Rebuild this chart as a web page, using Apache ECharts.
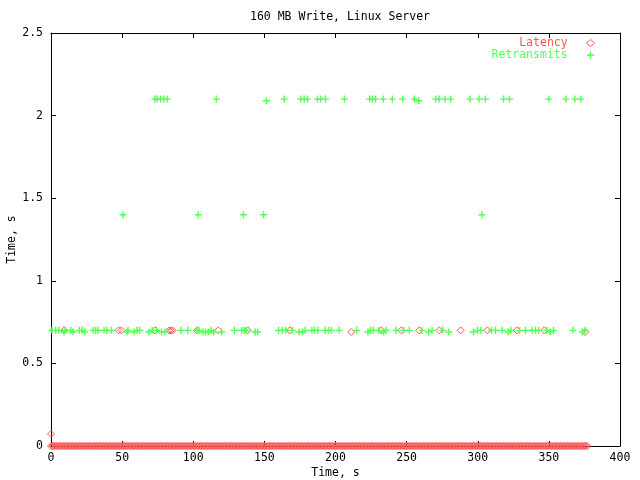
<!DOCTYPE html>
<html>
<head>
<meta charset="utf-8">
<script src="https://cdn.jsdelivr.net/npm/echarts@6/dist/echarts.min.js"></script>
<style>html,body{margin:0;padding:0;background:#fff}#c{width:640px;height:480px}</style>
</head>
<body>
<div id="c"></div>
<script>
// ---- data ----
var chartTitle = '160 MB Write, Linux Server';
var xName = 'Time, s';
var yName = 'Time, s';
var seriesNames = ['Latency', 'Retransmits'];

// Latency points [time, value] — the dense run of near-zero samples (even seconds)
var latencyBaseEven = [
[0,0],[2,0],[4,0],[6,0],[8,0],[10,0],[12,0],[14,0],[16,0],[18,0],[20,0],[22,0],[24,0],[26,0],[28,0],[30,0],[32,0],[34,0],[36,0],[38,0],
[40,0],[42,0],[44,0],[46,0],[48,0],[50,0],[52,0],[54,0],[56,0],[58,0],[60,0],[62,0],[64,0],[66,0],[68,0],[70,0],[72,0],[74,0],[76,0],[78,0],
[80,0],[82,0],[84,0],[86,0],[88,0],[90,0],[92,0],[94,0],[96,0],[98,0],[100,0],[102,0],[104,0],[106,0],[108,0],[110,0],[112,0],[114,0],[116,0],[118,0],
[120,0],[122,0],[124,0],[126,0],[128,0],[130,0],[132,0],[134,0],[136,0],[138,0],[140,0],[142,0],[144,0],[146,0],[148,0],[150,0],[152,0],[154,0],[156,0],[158,0],
[160,0],[162,0],[164,0],[166,0],[168,0],[170,0],[172,0],[174,0],[176,0],[178,0],[180,0],[182,0],[184,0],[186,0],[188,0],[190,0],[192,0],[194,0],[196,0],[198,0],
[200,0],[202,0],[204,0],[206,0],[208,0],[210,0],[212,0],[214,0],[216,0],[218,0],[220,0],[222,0],[224,0],[226,0],[228,0],[230,0],[232,0],[234,0],[236,0],[238,0],
[240,0],[242,0],[244,0],[246,0],[248,0],[250,0],[252,0],[254,0],[256,0],[258,0],[260,0],[262,0],[264,0],[266,0],[268,0],[270,0],[272,0],[274,0],[276,0],[278,0],
[280,0],[282,0],[284,0],[286,0],[288,0],[290,0],[292,0],[294,0],[296,0],[298,0],[300,0],[302,0],[304,0],[306,0],[308,0],[310,0],[312,0],[314,0],[316,0],[318,0],
[320,0],[322,0],[324,0],[326,0],[328,0],[330,0],[332,0],[334,0],[336,0],[338,0],[340,0],[342,0],[344,0],[346,0],[348,0],[350,0],[352,0],[354,0],[356,0],[358,0],
[360,0],[362,0],[364,0],[366,0],[368,0],[370,0],[372,0],[374,0],[376,0]
];
// (odd seconds)
var latencyBaseOdd = [
[1,0],[3,0],[5,0],[7,0],[9,0],[11,0],[13,0],[15,0],[17,0],[19,0],[21,0],[23,0],[25,0],[27,0],[29,0],[31,0],[33,0],[35,0],[37,0],[39,0],
[41,0],[43,0],[45,0],[47,0],[49,0],[51,0],[53,0],[55,0],[57,0],[59,0],[61,0],[63,0],[65,0],[67,0],[69,0],[71,0],[73,0],[75,0],[77,0],[79,0],
[81,0],[83,0],[85,0],[87,0],[89,0],[91,0],[93,0],[95,0],[97,0],[99,0],[101,0],[103,0],[105,0],[107,0],[109,0],[111,0],[113,0],[115,0],[117,0],[119,0],
[121,0],[123,0],[125,0],[127,0],[129,0],[131,0],[133,0],[135,0],[137,0],[139,0],[141,0],[143,0],[145,0],[147,0],[149,0],[151,0],[153,0],[155,0],[157,0],[159,0],
[161,0],[163,0],[165,0],[167,0],[169,0],[171,0],[173,0],[175,0],[177,0],[179,0],[181,0],[183,0],[185,0],[187,0],[189,0],[191,0],[193,0],[195,0],[197,0],[199,0],
[201,0],[203,0],[205,0],[207,0],[209,0],[211,0],[213,0],[215,0],[217,0],[219,0],[221,0],[223,0],[225,0],[227,0],[229,0],[231,0],[233,0],[235,0],[237,0],[239,0],
[241,0],[243,0],[245,0],[247,0],[249,0],[251,0],[253,0],[255,0],[257,0],[259,0],[261,0],[263,0],[265,0],[267,0],[269,0],[271,0],[273,0],[275,0],[277,0],[279,0],
[281,0],[283,0],[285,0],[287,0],[289,0],[291,0],[293,0],[295,0],[297,0],[299,0],[301,0],[303,0],[305,0],[307,0],[309,0],[311,0],[313,0],[315,0],[317,0],[319,0],
[321,0],[323,0],[325,0],[327,0],[329,0],[331,0],[333,0],[335,0],[337,0],[339,0],[341,0],[343,0],[345,0],[347,0],[349,0],[351,0],[353,0],[355,0],[357,0],[359,0],
[361,0],[363,0],[365,0],[367,0],[369,0],[371,0],[373,0],[375,0],[377,0]
];
var latencyHigh = [
[0,0.073],[9.2,0.7],[47.5,0.7],[49.5,0.7],[73,0.7],[83,0.7],[84.3,0.7],[85.5,0.7],[102.6,0.7],[117.6,0.7],
[138.3,0.7],[167.9,0.7],[211,0.69],[232.2,0.7],[246.3,0.7],[258.9,0.7],[273,0.7],[288,0.7],[306.8,0.7],
[327.5,0.7],[346.8,0.7],[375.5,0.69]
];

// Retransmit points [time, value]
var retransLow = [
[0.7,0.7],[3.3,0.7],[5.4,0.7],[9.2,0.69],[10.1,0.7],[13.9,0.7],[15.5,0.69],[20,0.7],[21.8,0.7],[23.7,0.69],
[29.6,0.7],[31.3,0.7],[33.1,0.7],[37.3,0.7],[39.2,0.7],[42.5,0.7],[53.5,0.69],[54.2,0.7],[58.5,0.69],[60.4,0.7],
[62.3,0.7],[68.8,0.69],[71.1,0.7],[74.2,0.7],[77.7,0.69],[80.1,0.69],[91.3,0.7],[96.1,0.7],[102.6,0.7],[104,0.7],
[106.8,0.69],[108.7,0.69],[110.6,0.69],[112.5,0.7],[114.4,0.69],[120,0.69],[128.9,0.7],[134.1,0.7],[135.9,0.7],[137.3,0.7],
[143.5,0.69],[145.3,0.69],[159.9,0.7],[162.7,0.7],[165.1,0.7],[169.7,0.7],[174.4,0.69],[176.8,0.69],[178.7,0.7],[183.4,0.7],
[185.2,0.7],[187.6,0.7],[192.7,0.7],[195.1,0.7],[197,0.7],[202.6,0.7],[214.8,0.7],[222.8,0.69],[224.6,0.7],[226.5,0.7],
[230.3,0.7],[233.8,0.69],[235.5,0.7],[242.5,0.7],[247.9,0.7],[251.9,0.7],[260.8,0.7],[265.5,0.69],[267.9,0.7],[275.4,0.7],
[279.6,0.69],[297,0.69],[299.8,0.7],[302.1,0.7],[309.6,0.7],[312.5,0.7],[317.2,0.7],[321.4,0.69],[323.2,0.7],[329.4,0.7],
[333.6,0.7],[338.3,0.7],[340.6,0.7],[342.9,0.7],[348.6,0.7],[351,0.69],[353.3,0.7],[366.9,0.7],[373.5,0.69],[375.4,0.7]
];
var retransMid = [[50.6,1.4],[103.5,1.4],[135.3,1.4],[149.4,1.4],[302.9,1.4]];
var retransHigh = [
[73,2.1],[74.6,2.1],[77,2.1],[79.3,2.1],[81.7,2.1],[116.2,2.1],[151.4,2.09],[164,2.1],[175.6,2.1],[178,2.1],
[180.3,2.1],[187.3,2.1],[189.7,2.1],[193,2.1],[206.3,2.1],[224,2.1],[225.9,2.1],[228.2,2.1],[233.6,2.1],[239.9,2.1],
[247.2,2.1],[255.4,2.1],[258.5,2.09],[270.4,2.1],[272.8,2.1],[277,2.1],[281,2.1],[294.6,2.1],[300.9,2.1],[305.4,2.1],
[318.1,2.1],[322.3,2.1],[350,2.1],[362,2.1],[368.3,2.1],[372.5,2.1]
];

// ---- chart ----
var RED = '#ff5555', GREEN = '#55ff55';
var FONT = 'DejaVu Sans Mono';
var FS = 11.5;
var PLUS = 'path://M4,0H6V4H10V6H6V10H4V6H0V4H4Z';

var latencyAll = latencyBaseEven.concat(latencyBaseOdd, latencyHigh);
var retransAll = retransLow.concat(retransMid, retransHigh);

var axisLine = {show: true, onZero: false, lineStyle: {color: '#000', width: 1}};
var tick = {show: true, inside: true, length: 5, lineStyle: {color: '#000'}};

var chart = echarts.init(document.getElementById('c'), null, {renderer: 'canvas'});
chart.setOption({
  animation: false,
  backgroundColor: '#fff',
  textStyle: {fontFamily: FONT, fontSize: FS, color: '#000'},
  title: {
    text: chartTitle, left: 335, textAlign: 'center', top: 6,
    textStyle: {fontFamily: FONT, fontSize: FS, fontWeight: 'normal', color: '#000'}
  },
  grid: {left: 51, right: 20, top: 33, bottom: 34, containLabel: false, outerBoundsMode: 'none'},
  legend: {
    orient: 'vertical', right: 40, top: 34, align: 'right',
    itemWidth: 8, itemHeight: 7, itemGap: 0, padding: [3, 5, 3, 5],
    formatter: function (n) { return n + '  '; },
    textStyle: {fontFamily: FONT, fontSize: FS, padding: 0, lineHeight: 11},
    data: [
      {name: seriesNames[0], icon: 'diamond', textStyle: {color: RED},
       itemStyle: {color: 'transparent', borderColor: RED, borderWidth: 1}},
      {name: seriesNames[1], icon: PLUS, textStyle: {color: GREEN},
       itemStyle: {color: GREEN}}
    ]
  },
  xAxis: [
    {type: 'value', position: 'bottom', min: 0, max: 400, interval: 50,
     axisLine: axisLine, axisTick: tick, splitLine: {show: false},
     axisLabel: {margin: 6, color: '#000', fontFamily: FONT, fontSize: FS},
     name: xName, nameLocation: 'middle', nameGap: 21, nameMoveOverlap: false,
     nameTextStyle: {fontFamily: FONT, fontSize: FS, color: '#000'}},
    {type: 'value', position: 'top', min: 0, max: 400, interval: 50,
     axisLine: axisLine, axisTick: tick, splitLine: {show: false},
     axisLabel: {show: false}}
  ],
  yAxis: [
    {type: 'value', position: 'left', min: 0, max: 2.5, interval: 0.5,
     axisLine: axisLine, axisTick: tick, splitLine: {show: false},
     axisLabel: {margin: 8, color: '#000', fontFamily: FONT, fontSize: FS},
     name: yName, nameLocation: 'middle', nameGap: 33, nameRotate: 90, nameMoveOverlap: false,
     nameTextStyle: {fontFamily: FONT, fontSize: FS, color: '#000'}},
    {type: 'value', position: 'right', min: 0, max: 2.5, interval: 0.5,
     axisLine: axisLine, axisTick: tick, splitLine: {show: false},
     axisLabel: {show: false}}
  ],
  series: [
    {name: seriesNames[0], type: 'scatter', xAxisIndex: 0, yAxisIndex: 0,
     symbol: 'diamond', symbolSize: 7, data: latencyAll,
     itemStyle: {color: 'transparent', borderColor: RED, borderWidth: 1, opacity: 1}},
    {name: seriesNames[1], type: 'scatter', xAxisIndex: 0, yAxisIndex: 0,
     symbol: PLUS, symbolSize: 7, data: retransAll,
     itemStyle: {color: GREEN, opacity: 1}}
  ]
});
</script>
</body>
</html>
